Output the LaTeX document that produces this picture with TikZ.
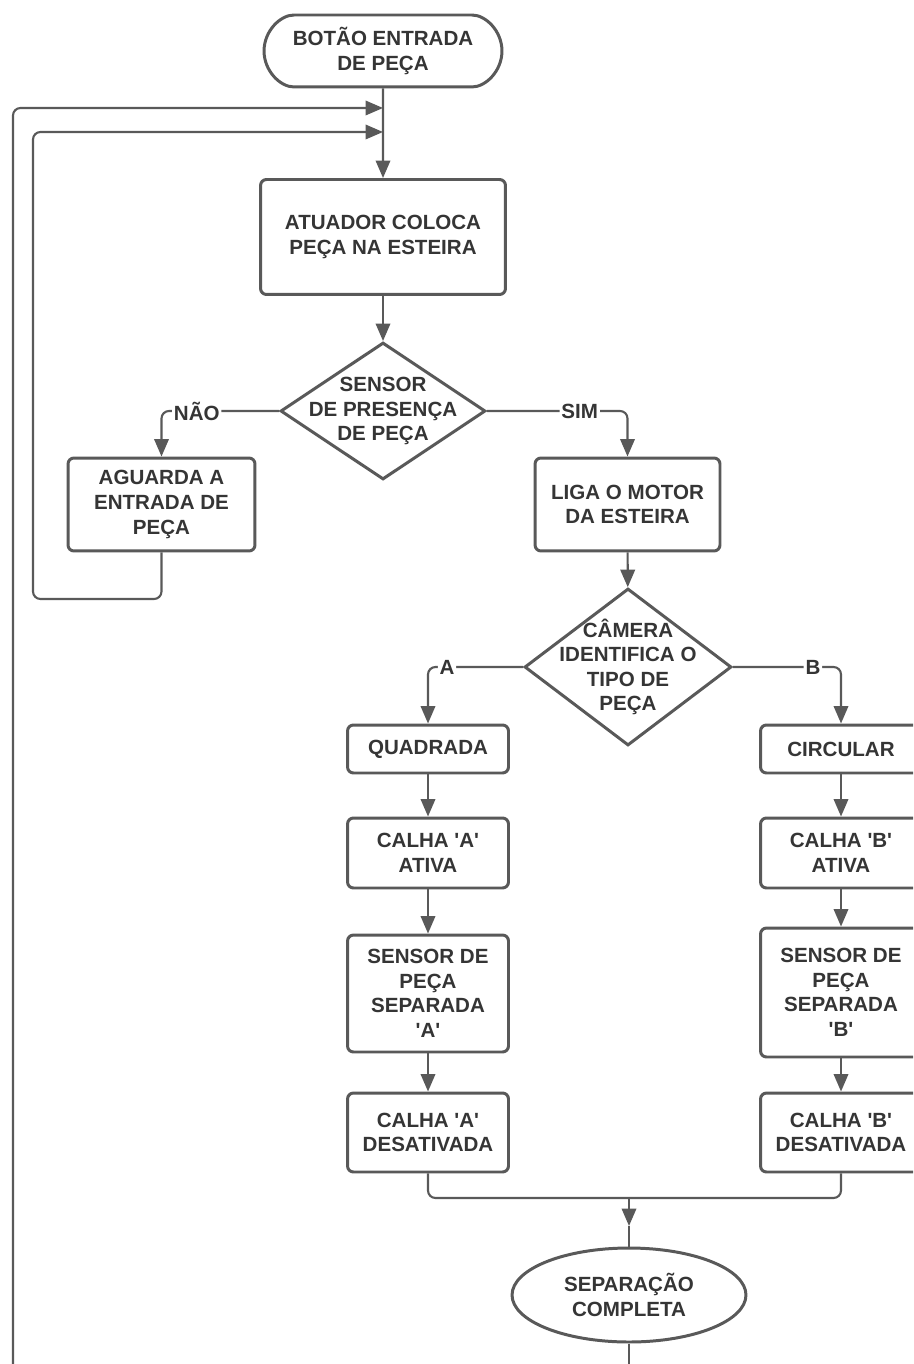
\documentclass[tikz,border=0pt]{standalone}
\usepackage{fontspec}
\setmainfont{Liberation Sans}
\setsansfont{Liberation Sans}
\usepackage{tikz}
\usetikzlibrary{positioning,shapes.geometric,shapes.misc,arrows.meta}
\definecolor{ink}  {HTML}{353535}
\definecolor{edge} {HTML}{595959}
\newcommand\quoted[1]{\textquotesingle#1\textquotesingle}
\tikzset{
  >={Triangle[length=3.5mm,width=2.9mm]},
  every node/.style={font=\sffamily\bfseries\fontsize{11.7}{14}\selectfont, text=ink},
  % --- nodes
  mod/.style   = {rectangle, rounded corners=1.2mm, draw=edge, fill=white, align=center,
                  inner sep=2pt, line width=1.7pt},
  term/.style  = {mod, rounded rectangle},
  fim/.style   = {mod, ellipse},
  dec/.style   = {diamond, draw=edge, fill=white, line width=1.7pt, inner sep=0pt},
  lbl/.style   = {fill=white, inner sep=1pt},
  % --- edges
  e/.style     = {->, draw=edge, line width=1.2pt, rounded corners=1.5mm},
  ln/.style    = {e, -},
}
\begin{document}
\begin{tikzpicture}[x=0.02cm, y=-0.02cm,
  w/.style={mod, minimum width=3.22cm},
]
  \useasboundingbox (0,0) rectangle (913,1364);
  \clip (0,0) rectangle (913,1364);
  \node[term, minimum width=4.9cm, minimum height=1.44cm] (ini) at (383,51) {BOTÃO ENTRADA\\DE PEÇA};
  \node[mod, minimum width=4.9cm, minimum height=2.3cm] (atu) at (383,237) {ATUADOR COLOCA\\PEÇA NA ESTEIRA};
  \node[dec, minimum width=4.1cm, minimum height=2.74cm,
        label={[align=center]center:{SENSOR\\DE PRESENÇA\\DE PEÇA}}] (sen) at (383,411) {};
  \node[mod, minimum width=3.74cm, minimum height=1.86cm] (agu) at (161.5,504.5) {AGUARDA A\\ENTRADA DE\\PEÇA};
  \node[mod, minimum width=3.7cm, minimum height=1.86cm] (lig) at (627.5,504.5) {LIGA O MOTOR\\DA ESTEIRA};
  \node[dec, minimum width=4.14cm, minimum height=3.14cm,
        label={[align=center]center:{CÂMERA\\IDENTIFICA O\\TIPO DE\\PEÇA}}] (cam) at (628,667) {};
  % ramo A
  \node[w, minimum height=0.96cm] (quA) at (428,749) {QUADRADA};
  \node[w, minimum height=1.4cm]  (caA) at (428,853) {CALHA \quoted{A}\\ATIVA};
  \node[w, minimum height=2.34cm] (snA) at (428,993.5) {SENSOR DE\\PEÇA\\SEPARADA\\\quoted{A}};
  \node[w, minimum height=1.58cm] (dsA) at (428,1132.5) {CALHA \quoted{A}\\DESATIVADA};
  % ramo B
  \node[w, minimum height=0.96cm] (quB) at (841,749) {CIRCULAR};
  \node[w, minimum height=1.4cm]  (caB) at (841,853) {CALHA \quoted{B}\\ATIVA};
  \node[w, minimum height=2.58cm] (snB) at (841,992.5) {SENSOR DE\\PEÇA\\SEPARADA\\\quoted{B}};
  \node[w, minimum height=1.58cm] (dsB) at (841,1132.5) {CALHA \quoted{B}\\DESATIVADA};
  \node[fim, minimum width=4.68cm, minimum height=1.88cm] (end) at (629,1295) {SEPARAÇÃO\\COMPLETA};
  % pontos de retorno
  \coordinate (in1) at (383,108);
  \coordinate (in2) at (383,132);
  \coordinate (rb) at (33,599);
  \coordinate (ra) at (13,1390);
  \coordinate (jn) at (629,1198);
  \coordinate (jt) at (629,1226);
  \coordinate (out) at (629,1390);
  \draw[e] (ini) -- (atu); \draw[e] (atu) -- (sen);
  \draw[e] (sen) -| node[lbl,pos=.35]{NÃO} (agu);
  \draw[e] (sen) -| node[lbl,pos=.33]{SIM} (lig);
  \draw[e] (lig) -- (cam);
  \draw[e] (cam) -| node[lbl,pos=.4]{A} (quA);
  \draw[e] (cam) -| node[lbl,pos=.37]{B} (quB);
  \draw[e] (quA) -- (caA); \draw[e] (caA) -- (snA); \draw[e] (snA) -- (dsA);
  \draw[e] (quB) -- (caB); \draw[e] (caB) -- (snB); \draw[e] (snB) -- (dsB);
  \draw[ln] (dsA) |- (jn); \draw[ln] (dsB) |- (jn);
  \draw[e] (jn) -- (jt); \draw[ln] (jt) -- (end);
  \draw[ln] (end) -- (out);
  \draw[e] (agu) |- (rb) |- (in2);
  \draw[e] (ra) |- (in1);
\end{tikzpicture}
\end{document}
